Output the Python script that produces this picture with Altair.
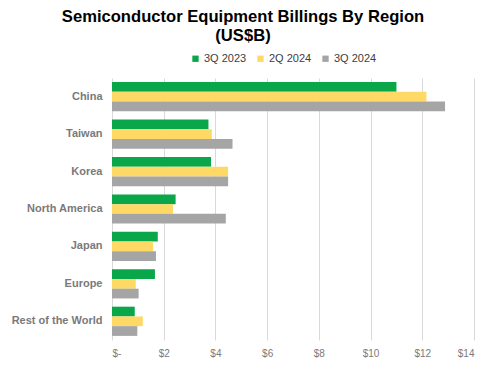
import altair as alt
import pandas as pd

regions = ["China", "Taiwan", "Korea", "North America", "Japan", "Europe", "Rest of the World"]
series = ["3Q 2023", "2Q 2024", "3Q 2024"]
q3_2023 = [11.0, 3.73, 3.83, 2.46, 1.77, 1.66, 0.88]
q2_2024 = [12.16, 3.86, 4.49, 2.36, 1.59, 0.92, 1.19]
q3_2024 = [12.88, 4.66, 4.49, 4.40, 1.70, 1.03, 0.98]
colors = ["#0AA64A", "#FFD966", "#A5A5A5"]

rows = []
for s, vals in zip(series, [q3_2023, q2_2024, q3_2024]):
    for r, v in zip(regions, vals):
        rows.append({"Region": r, "Series": s, "Value": v})
df = pd.DataFrame(rows)

chart = alt.Chart(df).mark_bar().encode(
    y=alt.Y("Region:N", sort=regions,
            scale=alt.Scale(paddingInner=0.22, paddingOuter=0.11),
            axis=alt.Axis(title=None, ticks=False, domain=False, labelFontWeight="bold",
                          labelFontSize=11, labelColor="#7a7a7a", labelFont="Liberation Sans",
                          labelPadding=10)),
    yOffset=alt.YOffset("Series:N", sort=series, scale=alt.Scale(domain=series)),
    x=alt.X("Value:Q", scale=alt.Scale(domain=[0, 14], nice=False),
            axis=alt.Axis(title=None, values=[0, 2, 4, 6, 8, 10, 12, 14], ticks=False, domain=False,
                          labelExpr="datum.value == 0 ? '$-' : '$' + datum.value",
                          labelFontSize=10, labelColor="#7a7a7a", labelFont="Liberation Sans",
                          gridColor="#d9d9d9", labelPadding=8)),
    color=alt.Color("Series:N", sort=series,
                    scale=alt.Scale(domain=series, range=colors),
                    legend=alt.Legend(title=None, orient="none", direction="horizontal",
                                      legendX=78, legendY=-25, symbolType="square", symbolSize=40,
                                      labelFontSize=11, labelColor="#404040", labelFont="Liberation Sans",
                                      columnPadding=8, symbolOffset=0, labelOffset=3)),
).properties(
    width=362, height=262,
    title=alt.TitleParams(["Semiconductor Equipment Billings By Region", "(US$B)"],
                          fontSize=16.6, font="Liberation Sans", fontWeight="bold", color="#000000",
                          anchor="middle", dx=-50, offset=8, lineHeight=19),
    autosize=alt.AutoSizeParams(type="none"),
    padding={"left": 104, "top": 70, "right": 18, "bottom": 27},
).configure_view(stroke=None)

chart.save("out.html", embed_options={"renderer": "svg", "actions": False})
